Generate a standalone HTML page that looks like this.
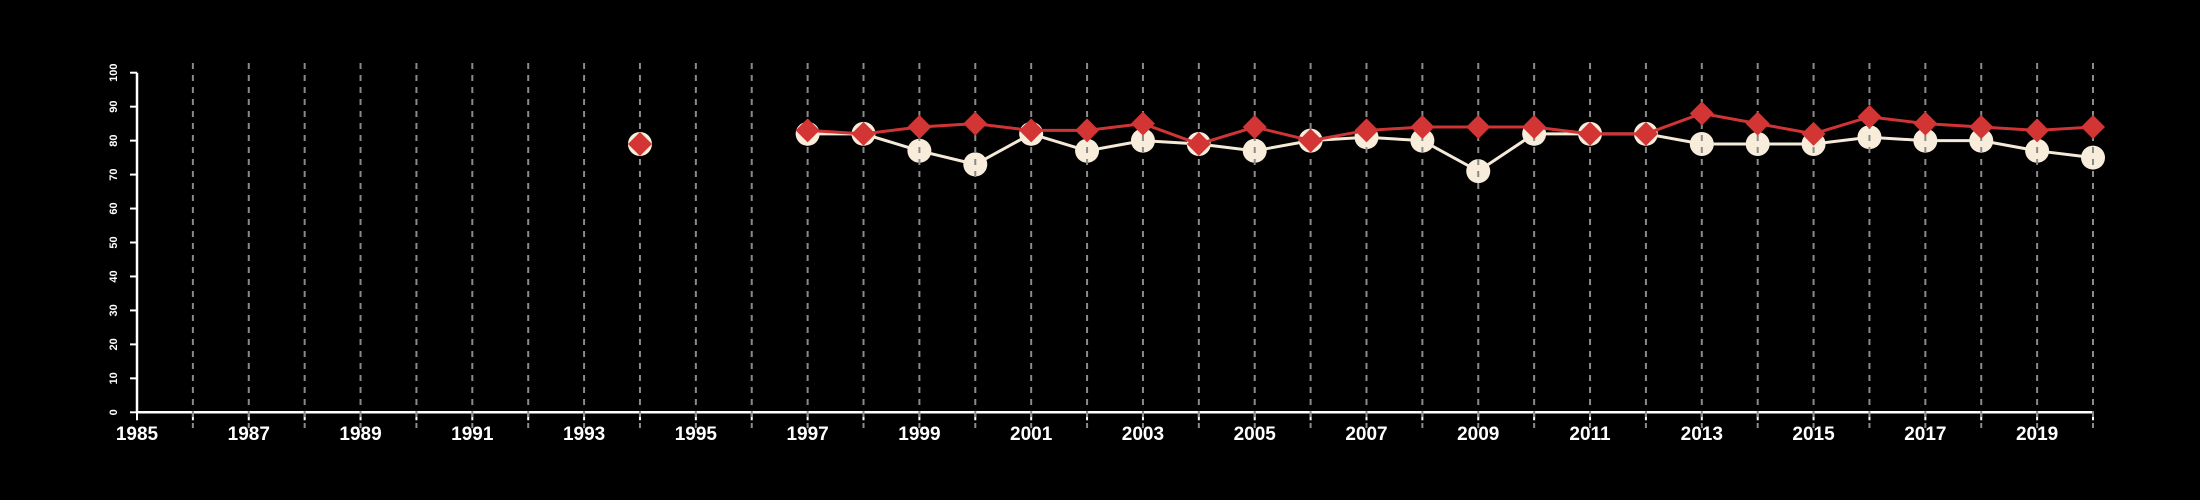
<!DOCTYPE html>
<html><head><meta charset="utf-8"><style>
html,body{margin:0;padding:0;background:#000;}
svg{display:block;font-family:"Liberation Sans",sans-serif;}
</style></head><body>
<svg id="chart" width="2200" height="500" xmlns="http://www.w3.org/2000/svg">
<rect width="2200" height="500" fill="#000"/>
<g id="grid"></g>
<g id="axes"></g>
<g id="series"></g>
</svg>
<script>
const years = [1994,1995,1996,1997,1998,1999,2000,2001,2002,2003,2004,2005,2006,2007,2008,2009,2010,2011,2012,2013,2014,2015,2016,2017,2018,2019,2020];
const seriesWhite = [79,null,null,82,82,77,73,82,77,80,79,77,80,81,80,71,82,82,82,79,79,79,81,80,80,77,75];
const seriesRed = [79,null,null,83,82,84,85,83,83,85,79,84,80,83,84,84,84,82,82,88,85,82,87,85,84,83,84];
const yTicks = [0,10,20,30,40,50,60,70,80,90,100];
const xTickLabels = [1985,1987,1989,1991,1993,1995,1997,1999,2001,2003,2005,2007,2009,2011,2013,2015,2017,2019];
const xMin = 1985, xMax = 2020;

const NS = "http://www.w3.org/2000/svg";
const X0 = 137, X1 = 2093, Y0 = 412.3, Y1 = 72.7;
function sx(v){ return X0 + (v - xMin) / (xMax - xMin) * (X1 - X0); }
function sy(v){ return Y0 - v / 100 * (Y0 - Y1); }
function mk(tag, attrs, parent){
  const e = document.createElementNS(NS, tag);
  for (const k in attrs) e.setAttribute(k, attrs[k]);
  parent.appendChild(e);
  return e;
}
const grid = document.getElementById('grid');
const axes = document.getElementById('axes');
const ser = document.getElementById('series');

// grid lines
const gridLayer = document.createElementNS(NS,'g');
for (let y = xMin + 1; y <= xMax; y++){
  const l = mk('line', {x1:sx(y), x2:sx(y), y1:63, y2:428, stroke:'#8a8a8a', 'stroke-width':2, 'stroke-dasharray':'6,6'}, gridLayer);
  
  
}

// axes
const ya = mk('line', {x1:X0, x2:X0, y1:Y1, y2:Y0, stroke:'#fff', 'stroke-width':2.5}, axes);


const xa = mk('line', {x1:X0, x2:X1, y1:Y0, y2:Y0, stroke:'#fff', 'stroke-width':2.5}, axes);


yTicks.forEach(v => {
  const t = mk('line', {x1:X0-7, x2:X0, y1:sy(v), y2:sy(v), stroke:'#fff', 'stroke-width':2}, axes);
  
  
  const tx = mk('text', {x:0, y:0, fill:'#fff', 'font-size':11, 'font-weight':'bold', 'text-anchor':'middle', transform:'translate(117,' + sy(v) + ') rotate(-90)'}, axes);
  tx.textContent = v;
  
  
});
for (let y = xMin; y <= xMax; y++){
  const t = mk('line', {x1:sx(y), x2:sx(y), y1:Y0, y2:Y0+8, stroke:'#fff', 'stroke-width':2}, axes);
  
  
}
xTickLabels.forEach(y => {
  const tx = mk('text', {x:sx(y), y:440, fill:'#fff', 'font-size':19, 'font-weight':'bold', 'text-anchor':'middle'}, axes);
  tx.textContent = y;
  
  
});

function pathFor(vals){
  let d = '', pen = false;
  vals.forEach((v,i) => {
    if (v == null){ pen = false; return; }
    d += (pen ? 'L' : 'M') + sx(years[i]) + ',' + sy(v);
    pen = true;
  });
  return d;
}
// white series
const wl = mk('path', {d:pathFor(seriesWhite), fill:'none', stroke:'#f5ead8', 'stroke-width':3}, ser);


seriesWhite.forEach((v,i) => {
  if (v == null) return;
  const c = mk('circle', {cx:sx(years[i]), cy:sy(v), r:12, fill:'#f8ecda'}, ser);
  
  
});
ser.appendChild(gridLayer);
// red series
const rl = mk('path', {d:pathFor(seriesRed), fill:'none', stroke:'#cf3535', 'stroke-width':3}, ser);


seriesRed.forEach((v,i) => {
  if (v == null) return;
  const x = sx(years[i]), y = sy(v), r = 12;
  const p = mk('polygon', {points:`${x},${y-r} ${x+r},${y} ${x},${y+r} ${x-r},${y}`, fill:'#d33535'}, ser);
  
  
});
</script>
</body></html>
